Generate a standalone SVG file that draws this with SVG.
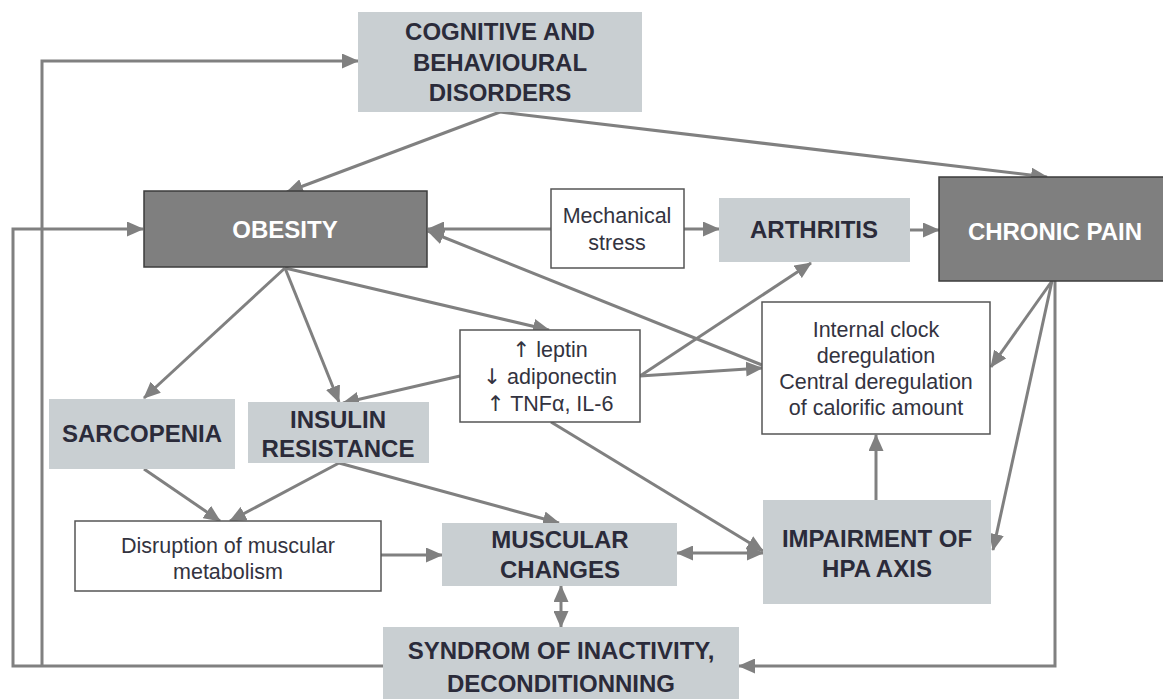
<svg xmlns="http://www.w3.org/2000/svg" width="1163" height="699" viewBox="0 0 1163 699">
<defs>
<marker id="ah" markerUnits="userSpaceOnUse" markerWidth="17" markerHeight="15" refX="16" refY="7.5" orient="auto-start-reverse" viewBox="0 0 17 15">
<path d="M0,0 L17,7.5 L0,15 z" fill="#808080"/>
</marker>
<style>
.lt{fill:#c9cfd2;stroke:none}
.dk{fill:#7f7f7f;stroke:#3c3c3c;stroke-width:1.5}
.wh{fill:#ffffff;stroke:#555555;stroke-width:1.5}
.b{font-family:"Liberation Sans",Arial,sans-serif;font-weight:bold;font-size:24px;fill:#2b2b3a;text-anchor:middle}
.bw{font-family:"Liberation Sans",Arial,sans-serif;font-weight:bold;font-size:24px;fill:#ffffff;text-anchor:middle}
.r{font-family:"Liberation Sans",Arial,sans-serif;font-size:21.5px;fill:#333340;text-anchor:middle}
.ar{font-family:"DejaVu Sans",sans-serif;fill:#333340}
.c{fill:none;stroke:#808080;stroke-width:3}
.a{marker-end:url(#ah)}
.d{marker-start:url(#ah);marker-end:url(#ah)}
</style>
</defs>
<g id="connectors">
<path class="c" d="M383,666 H13 V229 H143" marker-end="url(#ah)"/>
<path class="c" d="M42,666 V61 H358" marker-end="url(#ah)"/>
<path class="c" d="M1055,281 V666 H739" marker-end="url(#ah)"/>
<line class="c a" x1="500" y1="112" x2="287" y2="192"/>
<line class="c a" x1="500" y1="112" x2="1047" y2="177"/>
<line class="c a" x1="551" y1="229" x2="428" y2="229"/>
<line class="c a" x1="684" y1="229" x2="719" y2="229"/>
<line class="c a" x1="910" y1="230" x2="939" y2="230"/>
<line class="c a" x1="762" y1="365" x2="428" y2="231"/>
<line class="c a" x1="285" y1="268" x2="549" y2="330"/>
<line class="c a" x1="285" y1="268" x2="144" y2="398"/>
<line class="c a" x1="285" y1="268" x2="339" y2="402"/>
<line class="c a" x1="460" y1="376" x2="343" y2="403"/>
<line class="c a" x1="640" y1="376" x2="811" y2="263"/>
<line class="c a" x1="640" y1="376" x2="762" y2="368"/>
<line class="c a" x1="551" y1="422" x2="763" y2="551"/>
<line class="c a" x1="1052" y1="281" x2="991" y2="367"/>
<line class="c a" x1="1052" y1="281" x2="993" y2="550"/>
<line class="c a" x1="876" y1="500" x2="876" y2="435"/>
<line class="c a" x1="144" y1="469" x2="220" y2="521"/>
<line class="c a" x1="339" y1="463" x2="230" y2="521"/>
<line class="c a" x1="339" y1="463" x2="559" y2="523"/>
<line class="c a" x1="381" y1="555" x2="442" y2="555"/>
<line class="c d" x1="677" y1="553" x2="763" y2="553"/>
<line class="c d" x1="561" y1="586" x2="561" y2="627"/>
</g>
<g id="cognitive">
<rect class="lt" x="358" y="12" width="284" height="100"/>
<text class="b" x="500" y="40">COGNITIVE AND</text>
<text class="b" x="500" y="71">BEHAVIOURAL</text>
<text class="b" x="500" y="101">DISORDERS</text>
</g>
<g id="obesity">
<rect class="dk" x="144" y="191" width="283" height="76"/>
<text class="bw" x="285" y="238">OBESITY</text>
</g>
<g id="mechanical">
<rect class="wh" x="551" y="189" width="133" height="79"/>
<text class="r" x="617" y="223">Mechanical</text>
<text class="r" x="617" y="250">stress</text>
</g>
<g id="arthritis">
<rect class="lt" x="719" y="198" width="191" height="64"/>
<text class="b" x="814" y="238">ARTHRITIS</text>
</g>
<g id="chronic">
<rect class="dk" x="939" y="177" width="230" height="104"/>
<text class="bw" x="1055" y="240">CHRONIC PAIN</text>
</g>
<g id="adipokines">
<rect class="wh" x="460" y="330" width="180" height="92"/>
<text class="r" x="550" y="357"><tspan class="ar">↑</tspan> leptin</text>
<text class="r" x="550" y="384"><tspan class="ar">↓</tspan> adiponectin</text>
<text class="r" x="550" y="411"><tspan class="ar">↑</tspan> TNFα, IL-6</text>
</g>
<g id="clock">
<rect class="wh" x="762" y="302" width="228" height="132"/>
<text class="r" x="876" y="337">Internal clock</text>
<text class="r" x="876" y="363">deregulation</text>
<text class="r" x="876" y="389">Central deregulation</text>
<text class="r" x="876" y="415">of calorific amount</text>
</g>
<g id="sarcopenia">
<rect class="lt" x="49" y="399" width="186" height="70"/>
<text class="b" x="142" y="442">SARCOPENIA</text>
</g>
<g id="insulin">
<rect class="lt" x="248" y="402" width="181" height="61"/>
<text class="b" x="338" y="428">INSULIN</text>
<text class="b" x="338" y="457">RESISTANCE</text>
</g>
<g id="disruption">
<rect class="wh" x="75" y="521" width="306" height="70"/>
<text class="r" x="228" y="553">Disruption of muscular</text>
<text class="r" x="228" y="579">metabolism</text>
</g>
<g id="muscular">
<rect class="lt" x="442" y="523" width="235" height="63"/>
<text class="b" x="560" y="548">MUSCULAR</text>
<text class="b" x="560" y="578">CHANGES</text>
</g>
<g id="hpa">
<rect class="lt" x="763" y="500" width="228" height="104"/>
<text class="b" x="877" y="547">IMPAIRMENT OF</text>
<text class="b" x="877" y="577">HPA AXIS</text>
</g>
<g id="syndrom">
<rect class="lt" x="383" y="627" width="356" height="80"/>
<text class="b" x="561" y="659">SYNDROM OF INACTIVITY,</text>
<text class="b" x="561" y="692">DECONDITIONNING</text>
</g>
</svg>
